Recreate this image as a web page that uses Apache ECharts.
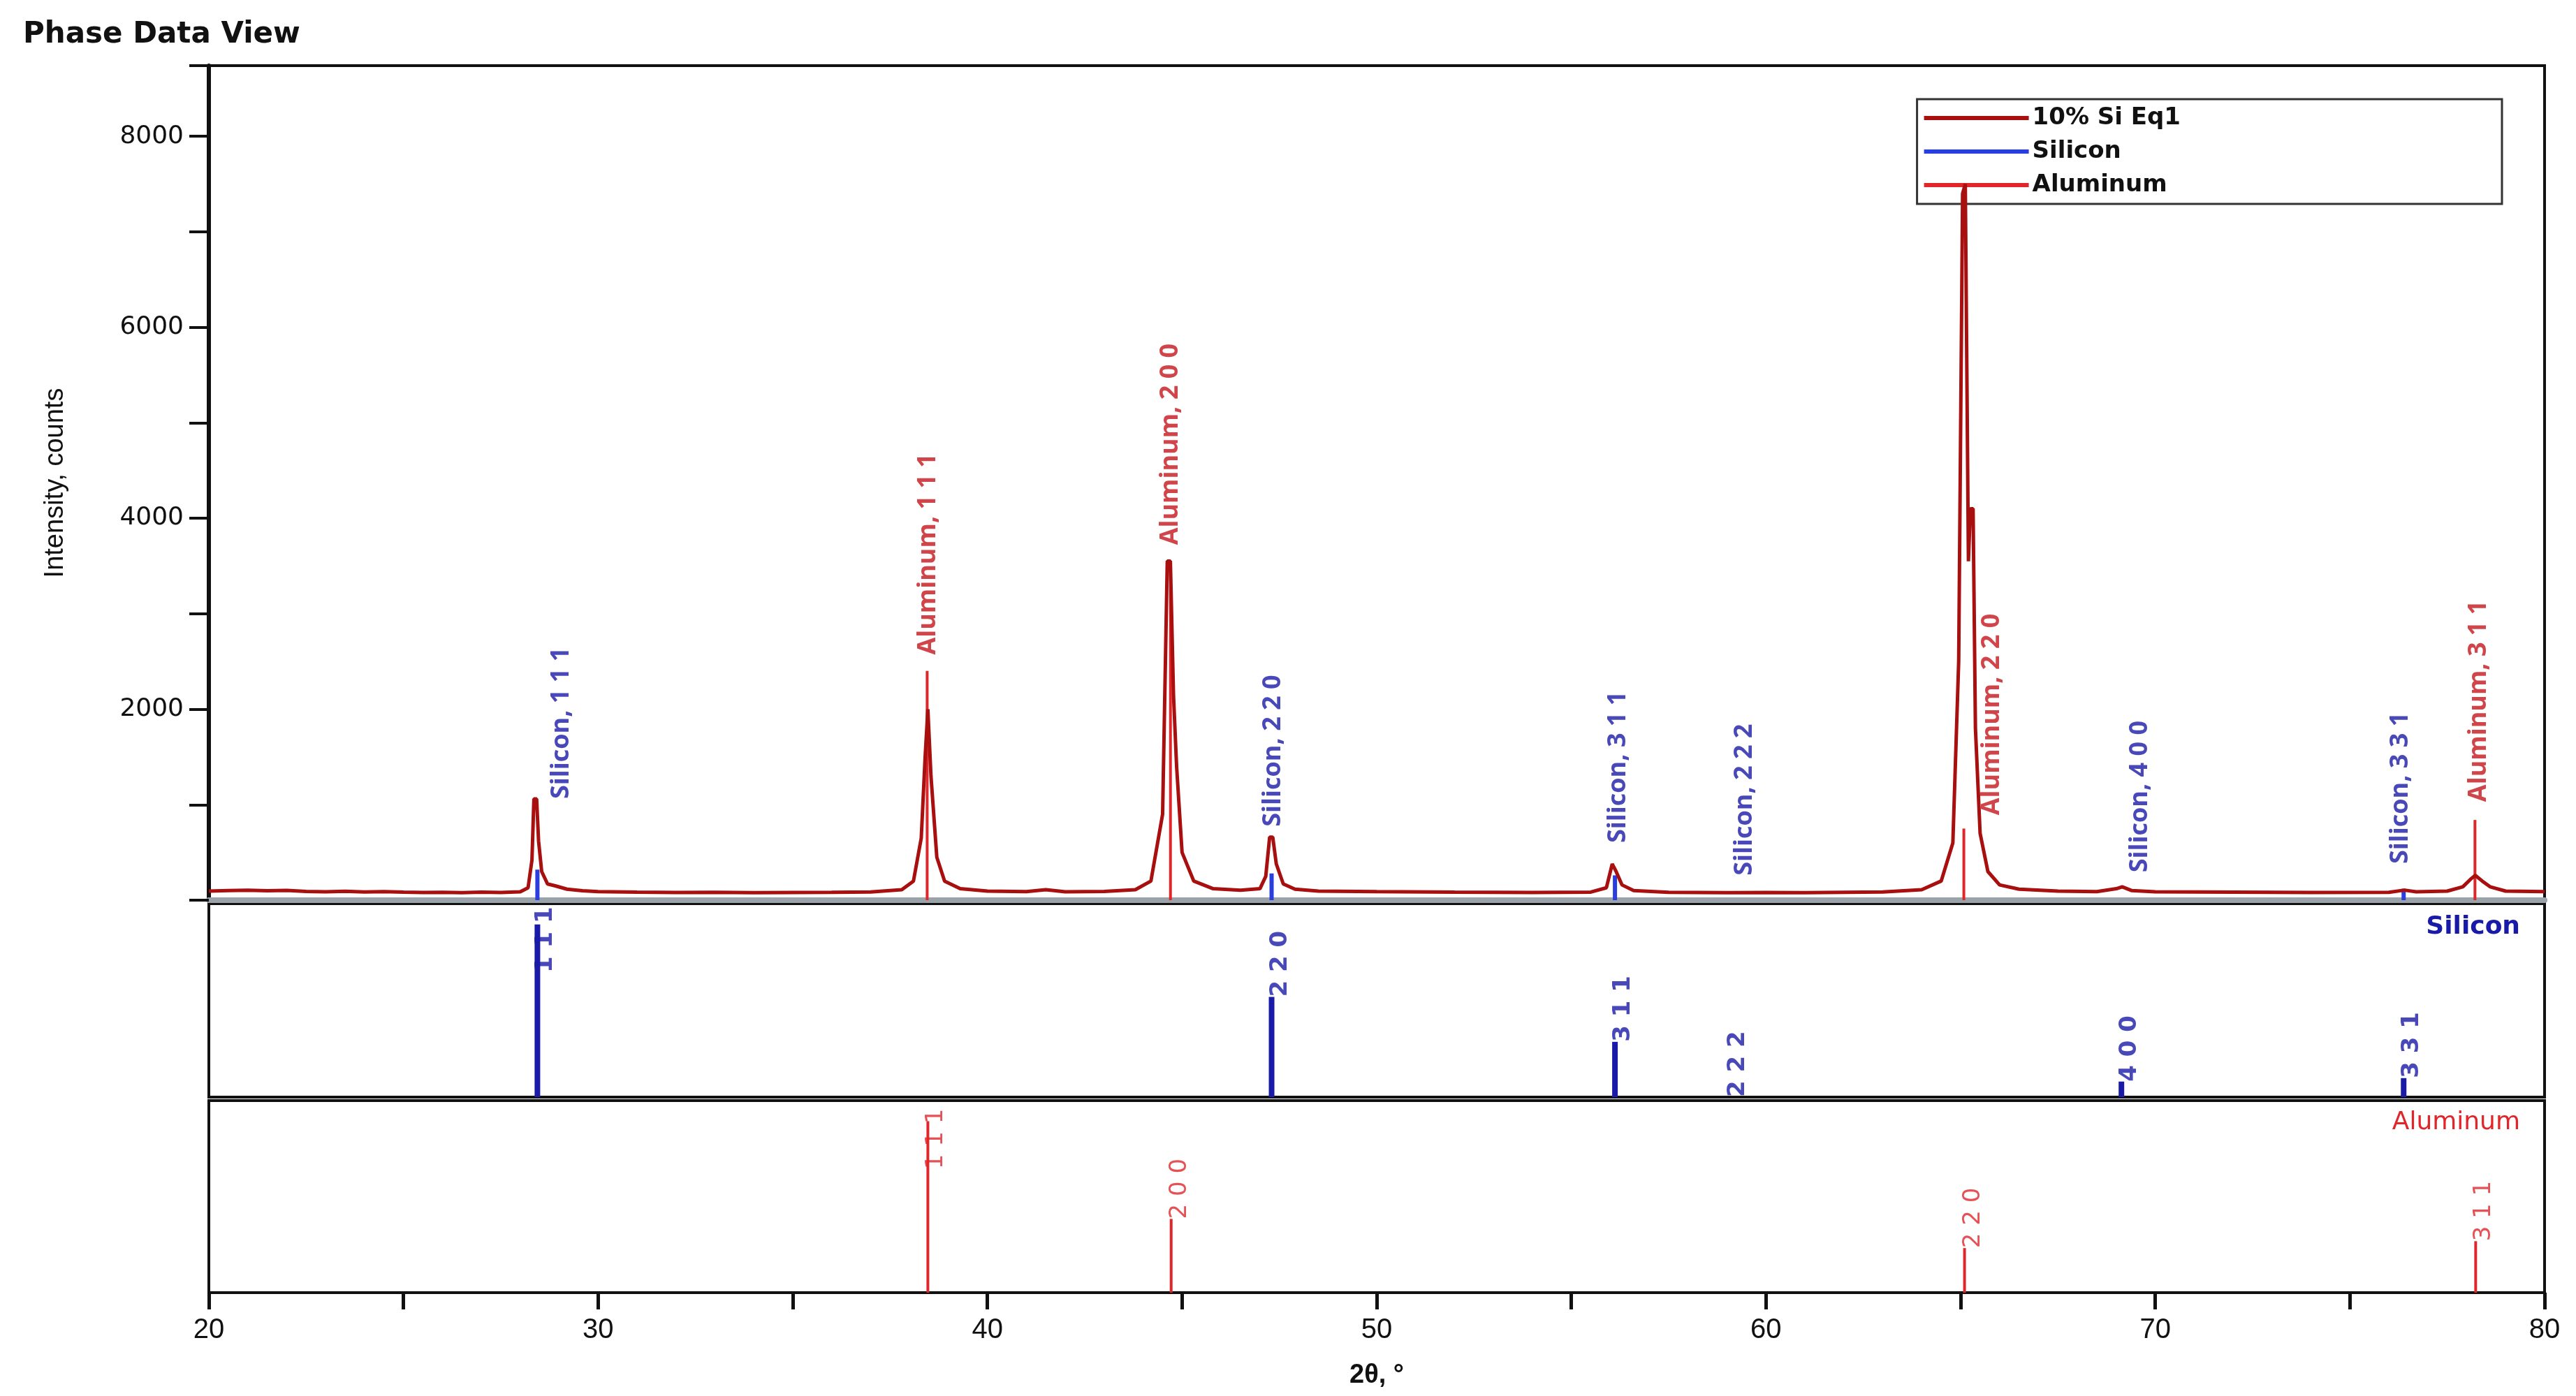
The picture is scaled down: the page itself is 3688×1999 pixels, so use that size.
<!DOCTYPE html>
<html><head><meta charset="utf-8">
<script src="https://cdn.jsdelivr.net/npm/echarts@6/dist/echarts.min.js"></script>
<style>html,body{margin:0;padding:0;background:#fff}#c{width:3688px;height:1999px}</style>
</head><body><div id="c"></div>
<script>
// Measured pattern "10% Si Eq1": [2θ, counts]
const patternData = [
[20,95],[20.5,100],[21,105],[21.5,98],[22,102],[22.5,92],[23,88],[23.5,94],[24,86],[24.5,90],[25,84],[25.5,80],[26,82],[26.5,78],[27,84],[27.5,80],
[28,88],[28.2,130],[28.3,420],[28.35,1060],[28.42,1060],[28.47,620],[28.55,300],[28.7,170],[28.9,150],[29.2,115],[29.6,98],[30,90],
[31,84],[32,80],[33,82],[34,78],[35,80],[36,82],[37,86],[37.8,110],[38.1,200],[38.3,650],[38.4,1500],[38.47,2000],[38.55,1300],[38.7,450],[38.9,200],[39.3,120],[40,95],
[41,90],[41.5,110],[42,88],[43,92],[43.8,110],[44.2,200],[44.5,900],[44.62,3550],[44.7,3550],[44.78,2150],[44.86,1400],[45,500],[45.3,200],[45.8,120],[46.5,105],
[47,120],[47.15,250],[47.25,660],[47.33,660],[47.42,380],[47.6,170],[47.9,115],[48.5,95],[50,90],[52,84],[54,80],[55.5,85],[55.9,130],[56.05,380],[56.15,300],[56.3,160],[56.6,100],[57.5,82],
[59,78],[60,80],[61,78],[62,82],[63,86],[64,110],[64.5,200],[64.8,600],[64.95,2500],[65.05,7400],[65.12,7500],[65.2,3550],[65.25,4100],[65.32,4100],[65.38,1800],[65.5,700],[65.7,300],[66,160],[66.5,115],
[67.5,95],[68.5,90],[69,120],[69.15,140],[69.4,100],[70,88],[72,85],[74,80],[76,82],[76.4,105],[76.7,88],[77.5,95],[77.9,140],[78.1,220],[78.22,260],[78.4,200],[78.6,140],[79,95],[80,90]
];
// Reference phase positions and intensities
const siPos = [28.44, 47.30, 56.12, 59.06, 69.13, 76.38];
const siMarker = [320, 280, 260, 0, 0, 120];
const siRel = [100, 58, 32, 0, 9, 11];
const siHkl = ["1 1 1","2 2 0","3 1 1","2 2 2","4 0 0","3 3 1"];
const siLabelX = [29.05, 47.34, 56.2, 59.45, 69.6, 76.3];
const siLabelY = [1060, 770, 600, 257, 290, 380];
const alPos = [38.47, 44.72, 65.10, 78.23];
const alMarker = [2400, 3550, 750, 840];
const alRel = [100, 43, 26, 30];
const alHkl = ["1 1 1","2 0 0","2 2 0","3 1 1"];
const alLabelX = [38.48, 44.7, 65.8, 78.3];
const alLabelY = [2570, 3720, 890, 1030];
const xTicks = [20,30,40,50,60,70,80];

const SI='#1a1aa8', AL='#e0262a', PAT='#a80f0f';
const F='Liberation Sans';
const chart = echarts.init(document.getElementById('c'));
const pairs=(xs,ys)=>xs.map((x,i)=>[x,ys[i]]);
const xAxisBase = (gi, show) => ({type:'value', gridIndex:gi, min:20, max:80, interval:5,
  axisLine:{show:true,lineStyle:{color:gi===0?'#9aa3aa':'#111',width:gi===0?8:4}}, axisTick:{show:show,length:24,lineStyle:{width:5,color:'#111'}},
  axisLabel:{show:show, fontSize:40, color:'#111', fontFamily:F, margin:34, formatter:v=>xTicks.includes(v)?String(v):''},
  splitLine:{show:false}, name: show?'2θ, °':'', nameLocation:'middle', nameGap:100,
  nameTextStyle:{fontSize:38,fontWeight:'bold',fontFamily:F,color:'#111'}});
const LMAX=112, LLEN=40;
const lowLabel = (pos, rel, hkl) => pos.map((x,i)=>[x+0.22, Math.min(rel[i], LMAX-LLEN), hkl[i]]);
chart.setOption({
  animation:false,
  title:{text:'Phase Data View', left:28, top:24, textStyle:{fontSize:42,fontWeight:'bold',fontFamily:'DejaVu Sans',color:'#111'}},
  legend:{right:106, top:142, orient:'vertical', itemWidth:150, itemHeight:6, itemGap:14, padding:[10,460,10,10],
    backgroundColor:'#fff', borderColor:'#333', borderWidth:3, textStyle:{fontSize:34,fontFamily:'DejaVu Sans',fontWeight:'bold',color:'#111'},
    data:[{name:'10% Si Eq1',icon:'rect'},{name:'Silicon',icon:'rect'},{name:'Aluminum',icon:'rect'}]},
  grid:[
    {left:299,right:45,top:94,height:1195,show:true,borderColor:'#111',borderWidth:4},
    {left:299,right:45,top:1294,height:277,show:true,borderColor:'#111',borderWidth:4},
    {left:299,right:45,top:1576,height:275,show:true,borderColor:'#111',borderWidth:4}],
  xAxis:[xAxisBase(0,false), xAxisBase(1,false), xAxisBase(2,true)],
  yAxis:[
    {type:'value',gridIndex:0,min:0,max:8740,interval:1000, axisLine:{show:true,lineStyle:{color:'#111',width:6}},
     axisTick:{show:true,length:28,lineStyle:{width:4,color:'#111'}},
     axisLabel:{fontSize:36,color:'#111',fontFamily:'DejaVu Sans',margin:36,formatter:v=>(v>0&&v%2000===0)?String(v):''},
     splitLine:{show:false}, name:'Intensity, counts', nameLocation:'middle', nameGap:200,
     nameTextStyle:{fontSize:38,fontFamily:'Liberation Sans',color:'#111'}},
    {type:'value',gridIndex:1,min:0,max:LMAX,show:false},
    {type:'value',gridIndex:2,min:0,max:LMAX,show:false}],
  graphic:[
    {type:'text',right:80,top:1310,style:{text:'Silicon',fontSize:36,fontWeight:'bold',fill:SI,fontFamily:'DejaVu Sans',textAlign:'right'}},
    {type:'text',right:80,top:1590,style:{text:'Aluminum',fontSize:36,fill:AL,fontFamily:'DejaVu Sans',textAlign:'right'}}],
  series:[
    {name:'Aluminum',type:'bar',xAxisIndex:0,yAxisIndex:0,barWidth:4,itemStyle:{color:AL},data:pairs(alPos,alMarker),z:3},
    {name:'Silicon',type:'bar',xAxisIndex:0,yAxisIndex:0,barWidth:6,barGap:'-100%',itemStyle:{color:'#2a3ee0'},data:pairs(siPos,siMarker),z:4},
    {name:'10% Si Eq1',type:'line',xAxisIndex:0,yAxisIndex:0,data:patternData,showSymbol:false,lineStyle:{color:PAT,width:5},itemStyle:{color:PAT},z:5},
    {type:'scatter',xAxisIndex:0,yAxisIndex:0,symbolSize:0,data:siLabelX.map((x,i)=>[x,siLabelY[i],'Silicon, '+siHkl[i]]),
     label:{show:true,rotate:90,position:'inside',align:'left',verticalAlign:'middle',color:SI,fontSize:36,fontFamily:'Open Sans',fontWeight:'bold',formatter:p=>p.data[2]},z:6},
    {type:'scatter',xAxisIndex:0,yAxisIndex:0,symbolSize:0,data:alLabelX.map((x,i)=>[x,alLabelY[i],'Aluminum, '+alHkl[i]]),
     label:{show:true,rotate:90,position:'inside',align:'left',verticalAlign:'middle',color:'#c4161c',fontSize:36,fontFamily:'Open Sans',fontWeight:'bold',formatter:p=>p.data[2]},z:6},
    {type:'bar',xAxisIndex:1,yAxisIndex:1,barWidth:8,itemStyle:{color:SI},data:pairs(siPos,siRel)},
    {type:'scatter',xAxisIndex:1,yAxisIndex:1,symbolSize:0,data:lowLabel(siPos,siRel,siHkl),
     label:{show:true,rotate:90,position:'inside',align:'left',verticalAlign:'middle',color:SI,fontSize:34,fontWeight:'bold',fontFamily:'DejaVu Sans',formatter:p=>p.data[2]}},
    {type:'bar',xAxisIndex:2,yAxisIndex:2,barWidth:4,itemStyle:{color:AL},data:pairs(alPos,alRel)},
    {type:'scatter',xAxisIndex:2,yAxisIndex:2,symbolSize:0,data:lowLabel(alPos,alRel,alHkl),
     label:{show:true,rotate:90,position:'inside',align:'left',verticalAlign:'middle',color:AL,fontSize:34,fontFamily:'DejaVu Sans',formatter:p=>p.data[2]}}
  ]
});
</script></body></html>
